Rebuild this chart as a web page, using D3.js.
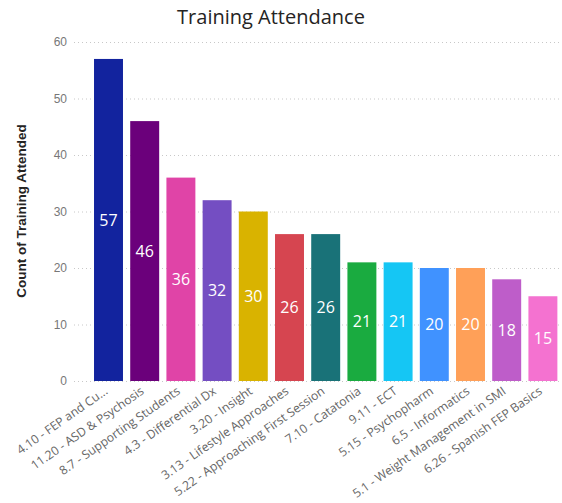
<!DOCTYPE html>
<html><head><meta charset="utf-8">
<script src="https://cdn.jsdelivr.net/npm/d3@7"></script>
<style>body{margin:0;background:#fff}svg{display:block}</style>
</head><body>
<script>
const categories = ["4.10 - FEP and Cu...","11.20 - ASD & Psychosis","8.7 - Supporting Students","4.3 - Differential Dx","3.20 - Insight","3.13 - Lifestyle Approaches","5.22 - Approaching First Session","7.10 - Catatonia","9.11 - ECT","5.15 - Psychopharm","6.5 - Informatics","5.1 - Weight Management in SMI","6.26 - Spanish FEP Basics"];
const values = [57,46,36,32,30,26,26,21,21,20,20,18,15];
const colors = ["#12239E","#6B007B","#E044A7","#744EC2","#D9B300","#D64550","#197278","#1AAB40","#15C6F4","#4092FF","#FFA058","#BE5DC9","#F472D0"];
const yTicks = [0,10,20,30,40,50,60];

const W=562,H=503;
const svg=d3.select("body").append("svg").attr("width",W).attr("height",H);
const font="'Segoe UI','Open Sans',sans-serif";
const font2="'Liberation Sans',Arial,sans-serif";
const x=d3.scaleBand().domain(categories).range([90.4,561]).paddingInner(0.2).paddingOuter(0.1);
const y=d3.scaleLinear().domain([0,60]).range([381,42]);

svg.append("text").attr("x",271).attr("y",24).attr("text-anchor","middle")
  .attr("font-family",font).attr("font-size",20).attr("fill","#252423").text("Training Attendance");

const ya=svg.append("g").attr("transform","translate(72,0)")
  .call(d3.axisLeft(y).tickValues(yTicks).tickSize(0).tickPadding(5));
ya.select(".domain").remove();
ya.selectAll("text").attr("font-family",font2).attr("font-size",12).attr("fill","#777");
ya.selectAll(".tick").append("line").attr("x1",2).attr("x2",W-72)
  .attr("stroke","#c8c8c8").attr("stroke-dasharray","1,3").attr("stroke-width",1);

svg.append("text").attr("transform","translate(26,211) rotate(-90)").attr("text-anchor","middle")
  .attr("font-family",font2).attr("font-size",13.5).attr("font-weight","bold").attr("fill","#252423")
  .text("Count of Training Attended");

svg.selectAll("rect.bar").data(values).enter().append("rect")
  .attr("x",(d,i)=>x(categories[i])).attr("width",x.bandwidth())
  .attr("y",d=>y(d)).attr("height",d=>y(0)-y(d))
  .attr("fill",(d,i)=>colors[i]);

svg.selectAll("text.val").data(values).enter().append("text")
  .attr("x",(d,i)=>x(categories[i])+x.bandwidth()/2)
  .attr("y",d=>(y(d)+y(0))/2).attr("dy","0.35em").attr("text-anchor","middle")
  .attr("font-family",font).attr("font-size",16).attr("fill","#fff").text(d=>d);

const xa=svg.append("g").attr("transform","translate(0,381)")
  .call(d3.axisBottom(x).tickSize(0).tickPadding(0));
xa.select(".domain").remove();
xa.selectAll("text").attr("font-family",font).attr("font-size",12.2).attr("fill","#666")
  .attr("text-anchor","end").attr("dy",0)
  .attr("transform","translate(0,12) rotate(-35)");
</script>
</body></html>
